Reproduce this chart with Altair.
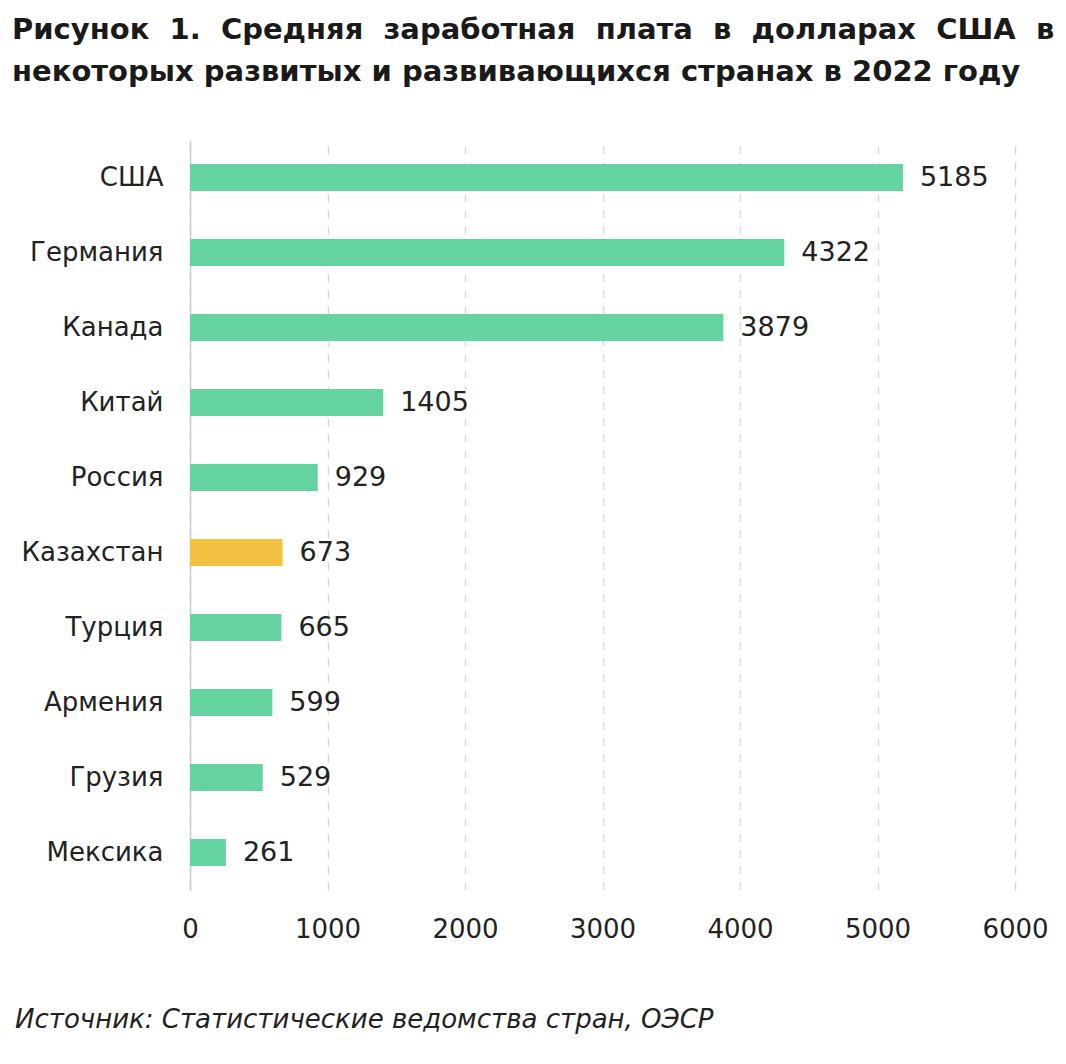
import altair as alt
import pandas as pd

countries = ["США", "Германия", "Канада", "Китай", "Россия", "Казахстан", "Турция", "Армения", "Грузия", "Мексика"]
wages = [5185, 4322, 3879, 1405, 929, 673, 665, 599, 529, 261]
highlight = ["Казахстан"]
title_lines = ["Рисунок 1. Средняя заработная плата в долларах США в",
               "некоторых развитых и развивающихся странах в 2022 году"]
source_text = "Источник: Статистические ведомства стран, ОЭСР"
x_ticks = [0, 1000, 2000, 3000, 4000, 5000, 6000]

df = pd.DataFrame({"country": countries, "wage": wages,
                   "hl": ["yes" if c in highlight else "no" for c in countries]})

FONT = "DejaVu Sans"
y_enc = alt.Y("country:N", sort=countries, title=None,
              scale=alt.Scale(paddingInner=0.64, paddingOuter=0.32),
              axis=alt.Axis(labelFontSize=26, labelColor="#222222", labelFont=FONT,
                            labelPadding=27, ticks=False, domainColor="#cccccc",
                            domainWidth=1.5, grid=False))
x_enc = alt.X("wage:Q", title=None,
              scale=alt.Scale(domain=[0, 6000], nice=False),
              axis=alt.Axis(values=x_ticks, format="d", labelFontSize=26, labelColor="#222222",
                            labelFont=FONT, labelPadding=26, labelFlush=False, ticks=False,
                            domain=False, grid=True, gridDash=[8, 8], gridColor="#d9d9d9",
                            gridWidth=1.5))

bars = alt.Chart(df).mark_bar().encode(
    x=x_enc, y=y_enc,
    color=alt.Color("hl:N", scale=alt.Scale(domain=["no", "yes"], range=["#66D4A1", "#F4C242"]),
                    legend=None),
)
labels = alt.Chart(df).mark_text(align="left", baseline="middle", dx=17,
                                 fontSize=27, font=FONT, color="#222222").encode(
    x="wage:Q", y=alt.Y("country:N", sort=countries), text="wage:Q")

line1 = title_lines[0].replace(" ", "\u00a0\u00a0")
t1 = alt.Chart(pd.DataFrame({"t": [line1]})).mark_text(
    align="left", baseline="middle", fontSize=29, fontWeight="bold", font=FONT,
    color="#1a1a1a").encode(text="t:N", x=alt.value(-178), y=alt.value(-110))
t2 = alt.Chart(pd.DataFrame({"t": [title_lines[1]]})).mark_text(
    align="left", baseline="middle", fontSize=29, fontWeight="bold", font=FONT,
    color="#1a1a1a").encode(text="t:N", x=alt.value(-178), y=alt.value(-68))
src = alt.Chart(pd.DataFrame({"t": [source_text]})).mark_text(
    align="left", baseline="middle", fontSize=26, fontStyle="italic", font=FONT,
    color="#222222").encode(text="t:N", x=alt.value(-175), y=alt.value(880))

chart = alt.layer(bars, labels, t1, t2, src).properties(
    width=825, height=750,
    autosize=alt.AutoSizeParams(type="none"),
    padding={"left": 190, "top": 140, "right": 51, "bottom": 174},
).configure(background="white").configure_view(stroke=None, strokeWidth=0)

chart.save("out.html", embed_options={"renderer": "svg", "actions": False})
